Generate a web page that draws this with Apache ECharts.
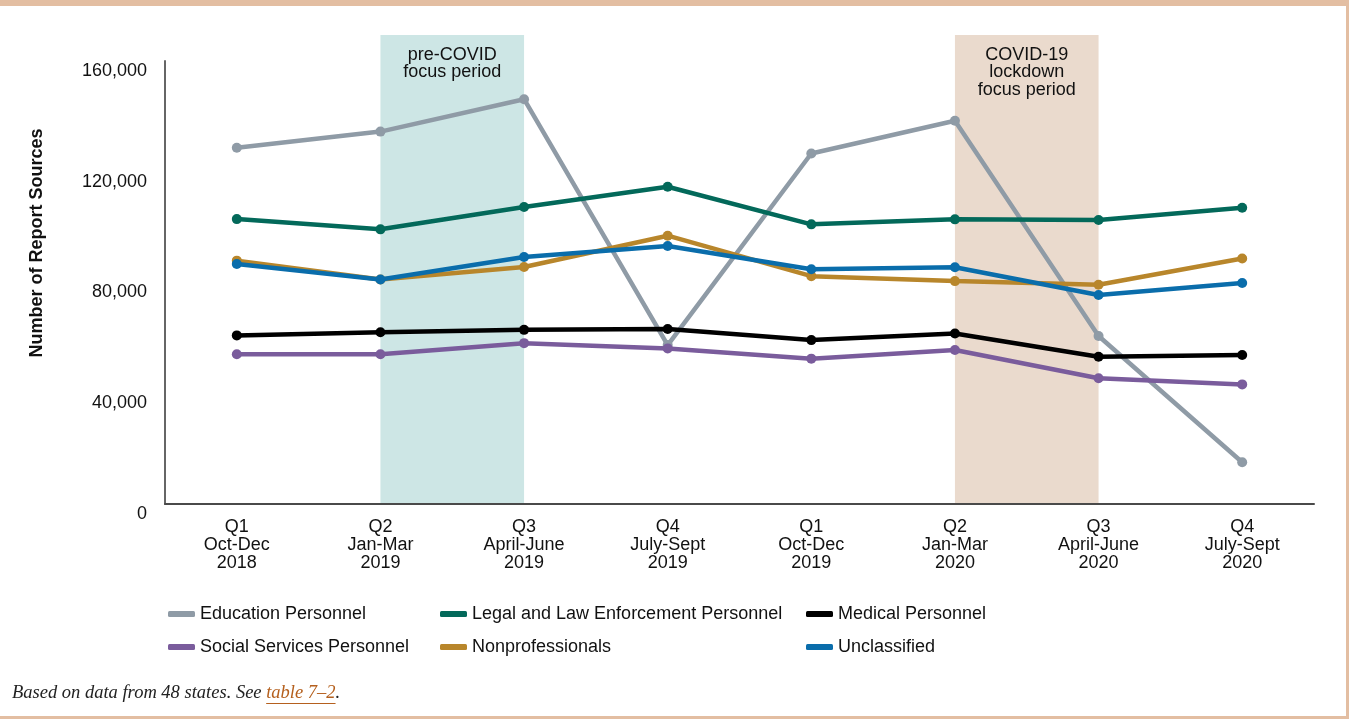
<!DOCTYPE html>
<html>
<head>
<meta charset="utf-8">
<script src="https://cdn.jsdelivr.net/npm/echarts@6/dist/echarts.min.js"></script>
<style>
html,body{margin:0;padding:0;background:#fff;}
#wrap{position:absolute;left:0;top:0;width:1349px;height:719px;box-sizing:border-box;border-top:6px solid #e3bea2;border-right:3px solid #e3bea2;border-bottom:3px solid #e3bea2;}
#chart{position:absolute;left:0;top:0;width:1349px;height:719px;}
</style>
</head>
<body>
<div id="wrap"></div>
<div id="chart"></div>
<script>
const categories = [
  "Q1\nOct-Dec\n2018", "Q2\nJan-Mar\n2019", "Q3\nApril-June\n2019", "Q4\nJuly-Sept\n2019",
  "Q1\nOct-Dec\n2019", "Q2\nJan-Mar\n2020", "Q3\nApril-June\n2020", "Q4\nJuly-Sept\n2020"
];
const education    = [128700, 134500, 146200, 57400, 126600, 138400, 60700, 15100];
const legal        = [102900, 99200, 107300, 114600, 101000, 102800, 102600, 107000];
const medical      = [60900, 62000, 62900, 63200, 59200, 61600, 53200, 53800];
const social       = [54100, 54100, 58100, 56200, 52500, 55600, 45400, 43200];
const nonprof      = [87900, 81100, 85600, 96900, 82300, 80500, 79200, 88700];
const unclassified = [86700, 81100, 89200, 93200, 84800, 85500, 75500, 79800];
const yTicks = [0, 40000, 80000, 120000, 160000];
const seriesNames = ["Education Personnel", "Legal and Law Enforcement Personnel", "Medical Personnel",
  "Social Services Personnel", "Nonprofessionals", "Unclassified"];
const bands = [
  {from: 1, to: 2, label: "pre-COVID\nfocus period", color: "#cde6e5"},
  {from: 5, to: 6, label: "COVID-19\nlockdown\nfocus period", color: "#eadacd"}
];

const colors = ["#8f9ba6", "#03695a", "#000000", "#7a5c9c", "#b8862b", "#0a6dab"];
const dataSets = [education, legal, medical, social, nonprof, unclassified];
const FONT = '"Liberation Sans", Arial, Helvetica, sans-serif';

const chart = echarts.init(document.getElementById('chart'), null, {renderer: 'canvas'});

const legendPos = [
  [168, 604], [440, 604], [806, 604],
  [168, 637], [440, 637], [806, 637]
];

const option = {
  animation: false,
  backgroundColor: 'transparent',
  grid: {left: 165, right: 35, top: 61, bottom: 215},
  xAxis: {
    type: 'category',
    data: categories,
    boundaryGap: true,
    axisLine: {lineStyle: {color: '#4a4a4a', width: 2}},
    axisTick: {show: false},
    axisLabel: {color: '#111', fontFamily: FONT, fontSize: 18, lineHeight: 18, margin: 14, interval: 0}
  },
  yAxis: {
    type: 'value',
    min: yTicks[0], max: yTicks[yTicks.length - 1], interval: 40000,
    axisLine: {show: true, lineStyle: {color: '#666', width: 2}},
    axisTick: {show: false},
    splitLine: {show: false},
    axisLabel: {
      color: '#111', fontFamily: FONT, fontSize: 18, margin: 18,
      verticalAlign: 'top', lineHeight: 20,
      formatter: v => v.toLocaleString('en-US')
    }
  },
  legend: seriesNames.map((n, i) => ({
    data: [n], left: legendPos[i][0], top: legendPos[i][1], padding: 0,
    icon: 'roundRect', itemWidth: 27, itemHeight: 6, itemGap: 0,
    textStyle: {color: '#111', fontFamily: FONT, fontSize: 18, lineHeight: 20},
    selectedMode: false
  })),
  series: seriesNames.map((n, i) => ({
    name: n, type: 'line', data: dataSets[i],
    symbol: 'circle', symbolSize: 10, showSymbol: true,
    lineStyle: {color: colors[i], width: 4.5},
    itemStyle: {color: colors[i]},
    z: 3 + i
  }))
};
chart.setOption(option);

// Shaded focus bands placed through the axes' own scales
const zeroY = chart.convertToPixel({yAxisIndex: 0}, 0);
const graphics = [];
bands.forEach(b => {
  const x1 = chart.convertToPixel({xAxisIndex: 0}, categories[b.from]);
  const x2 = chart.convertToPixel({xAxisIndex: 0}, categories[b.to]);
  graphics.push({type: 'rect', z: -10, shape: {x: x1, y: 35, width: x2 - x1, height: zeroY - 35}, style: {fill: b.color}, silent: true});
  graphics.push({type: 'text', z: 10, x: (x1 + x2) / 2, y: 46, style: {text: b.label, fill: '#111', font: '18px ' + FONT, textAlign: 'center', textVerticalAlign: 'top', lineHeight: 17.5}, silent: true});
});
// y axis title
graphics.push({type: 'text', x: 37, y: 243, rotation: Math.PI / 2, style: {text: 'Number of Report Sources', fill: '#111', font: 'bold 18px ' + FONT, textAlign: 'center', textVerticalAlign: 'middle'}});
// footnote
const cv = document.createElement('canvas').getContext('2d');
const serif = '"Liberation Serif", "Times New Roman", serif';
const fnFont = 'italic 18.5px ' + serif;
cv.font = fnFont;
const part1 = 'Based on data from 48 states. See ';
const part2 = 'table 7\u20132';
const w1 = cv.measureText(part1).width;
const w2 = cv.measureText(part2).width;
graphics.push({type: 'text', x: 12, y: 693, style: {text: part1, fill: '#222', font: fnFont, textVerticalAlign: 'middle'}});
graphics.push({type: 'text', x: 12 + w1, y: 693, style: {text: part2, fill: '#b5601e', font: fnFont, textVerticalAlign: 'middle'}});
graphics.push({type: 'text', x: 12 + w1 + w2, y: 693, style: {text: '.', fill: '#222', font: fnFont, textVerticalAlign: 'middle'}});
graphics.push({type: 'rect', shape: {x: 12 + w1, y: 703, width: w2, height: 1}, style: {fill: '#b5601e'}});
chart.setOption({graphic: graphics});
</script>
</body>
</html>
